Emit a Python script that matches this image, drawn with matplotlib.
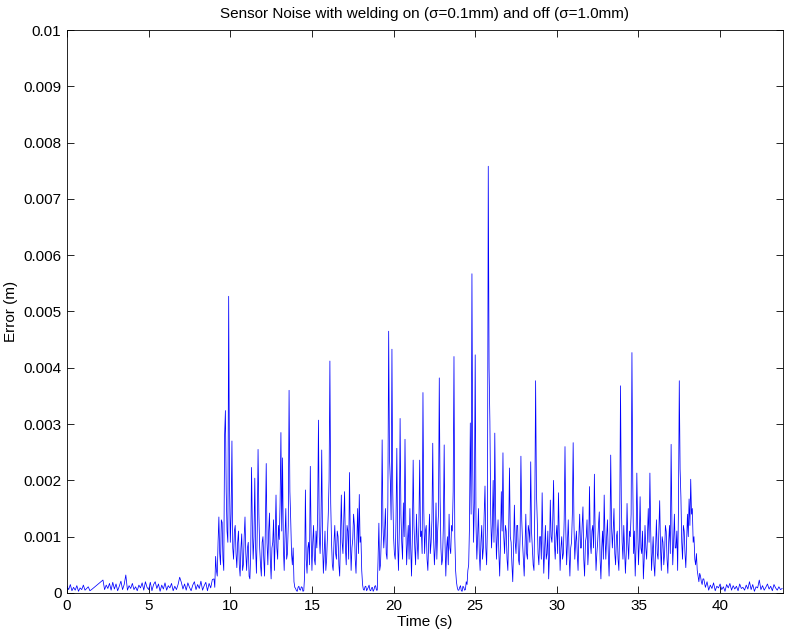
import numpy as np
import matplotlib
matplotlib.use("Agg")
import matplotlib.pyplot as plt

# the log was read in three pieces (values in 1e-4 m)
# quiet start, t = 0.0 .. 1.5 s, 0.1 s steps
err_a = [1.2, 0.6, 1.5, 0.4, 1.0, 0.5, 1.3, 0.3, 0.9, 0.6, 1.4, 0.5, 0.8, 1.1, 0.4, 0.6]
t_a_start, dt_a = 0.0, 0.1

# quiet part after a short gap, t = 2.2 .. 8.9 s, 0.1 s steps
err_b = [
    2.3, 0.6, 1.4, 0.8, 1.7, 0.5, 1.9, 0.7,                  # 2.2 - 2.9
    1.6, 0.4, 1.2, 2.1, 0.6, 1.5, 3.2, 0.5, 1.3, 0.8,        # 3
    1.7, 0.6, 1.1, 0.4, 1.4, 0.9, 1.8, 0.5, 2.0, 1.0,        # 4
    0.6, 1.9, 0.4, 1.5, 2.0, 0.8, 1.6, 0.3, 1.4, 0.7,        # 5
    1.8, 0.5, 1.3, 0.9, 1.7, 0.4, 1.2, 0.6, 1.5, 2.8,        # 6
    1.9, 0.7, 1.6, 0.5, 1.8, 1.0, 0.4, 1.4, 2.0, 0.6,        # 7
    1.5, 0.8, 2.1, 0.5, 1.3, 1.9, 0.4, 1.7, 0.9, 2.4,        # 8
]
t_b_start, dt_b = 2.2, 0.1

# welding part, t = 9.0 .. 38.95 s, 0.05 s steps
err_c = [
    2.5, 1.0, 6.5, 4.0, 3.0, 9.0, 13.5, 7.0, 5.0, 13.0, 12.5, 6.0, 4.0, 28.0, 32.4, 18.0, 11.0, 9.0, 52.7, 20.0,   # 9
    9.0, 14.0, 27.0, 8.0, 6.0, 11.0, 12.0, 7.0, 4.5, 9.0, 11.0, 5.0, 3.0, 8.0, 10.5, 4.0, 5.0, 10.0, 13.5, 7.0,    # 10
    4.0, 8.0, 9.0, 3.0, 2.5, 7.0, 22.3, 12.0, 6.0, 10.0, 20.4, 8.0, 3.5, 11.0, 25.5, 14.0, 8.0, 5.0, 3.0, 9.0,     # 11
    10.0, 6.0, 3.0, 12.0, 23.0, 9.0, 5.0, 11.0, 14.2, 6.0, 2.5, 8.0, 9.0, 13.0, 4.0, 10.0, 17.4, 8.0, 6.0, 12.0,   # 12
    9.5, 16.0, 28.5, 11.0, 24.0, 8.0, 4.0, 10.0, 15.0, 6.0, 7.0, 12.0, 36.0, 18.0, 13.0, 7.0, 5.0, 8.0, 2.0, 1.0,  # 13
    0.8, 0.4, 0.3, 1.0, 1.2, 0.6, 0.5, 1.1, 1.0, 0.3, 0.4, 3.0, 18.3, 6.0, 3.5, 8.0, 9.0, 5.0, 22.5, 10.0,         # 14
    4.0, 9.0, 12.0, 6.0, 5.0, 11.0, 8.0, 14.0, 30.7, 10.0, 7.0, 12.0, 25.4, 9.0, 3.5, 7.0, 11.0, 4.0, 6.0, 10.0,   # 15
    14.0, 20.0, 41.2, 16.0, 9.0, 5.0, 4.0, 9.0, 12.0, 7.0, 6.0, 11.0, 10.0, 5.0, 3.0, 10.0, 17.4, 9.0, 7.0, 13.0,  # 16
    18.0, 8.0, 5.0, 12.0, 11.0, 6.0, 21.4, 10.0, 4.0, 8.0, 9.5, 14.0, 12.0, 6.0, 3.5, 9.0, 15.0, 7.0, 17.5, 9.0,   # 17
    10.0, 4.0, 1.5, 0.6, 0.5, 1.1, 1.2, 0.4, 0.7, 1.0, 1.4, 0.5, 0.4, 0.9, 1.0, 0.3, 0.6, 1.2, 1.3, 0.5,           # 18
    0.5, 6.0, 12.4, 4.0, 5.0, 10.0, 27.2, 12.0, 8.0, 11.0, 15.0, 7.0, 6.0, 16.0, 46.5, 24.0, 20.0, 13.0, 43.3, 18.0,  # 19
    10.0, 7.0, 6.0, 13.0, 25.7, 9.0, 4.0, 11.0, 31.0, 14.0, 9.0, 6.0, 16.0, 10.0, 27.3, 12.0, 5.0, 9.0, 12.0, 6.0,    # 20
    15.0, 8.0, 3.0, 10.0, 23.6, 12.0, 8.0, 5.0, 14.0, 9.0, 6.0, 12.0, 23.6, 10.0, 11.0, 7.0, 35.6, 15.0, 7.0, 11.0,   # 21
    12.0, 6.0, 4.0, 9.0, 14.0, 7.0, 9.0, 13.0, 26.6, 10.0, 5.0, 8.0, 16.0, 6.0, 11.0, 14.0, 38.2, 17.0, 8.0, 5.0,     # 22
    6.0, 12.0, 26.3, 9.0, 3.0, 8.0, 10.0, 5.0, 14.0, 8.0, 7.0, 12.0, 11.0, 18.0, 42.0, 10.0, 4.0, 2.0, 1.0, 0.5,      # 23
    0.5, 1.0, 1.3, 0.4, 0.3, 1.2, 1.0, 0.5, 0.6, 2.0, 1.5, 4.0, 5.0, 12.0, 30.2, 14.0, 56.7, 22.0, 9.0, 16.0,         # 24
    42.3, 12.0, 6.0, 10.0, 15.0, 7.0, 4.0, 9.0, 12.0, 6.0, 8.0, 14.0, 19.0, 8.0, 5.0, 12.0, 75.8, 40.0, 30.4, 14.0,   # 25
    8.0, 12.0, 20.0, 9.0, 28.4, 14.0, 6.0, 10.0, 13.0, 7.0, 3.0, 9.0, 18.0, 11.0, 24.9, 10.0, 7.0, 12.0, 11.0, 6.0,   # 26
    4.0, 11.0, 22.2, 10.0, 9.0, 5.0, 2.0, 8.0, 15.6, 9.0, 7.0, 12.0, 12.0, 6.0, 5.0, 10.0, 24.3, 13.0, 9.0, 6.0,      # 27
    3.0, 8.0, 14.0, 7.0, 6.0, 12.0, 11.0, 9.0, 23.3, 11.0, 8.0, 5.0, 4.0, 15.0, 37.7, 18.0, 13.0, 7.0, 5.0, 10.0,     # 28
    10.0, 6.0, 17.8, 9.0, 3.5, 8.0, 12.0, 6.0, 7.0, 11.0, 2.5, 7.0, 16.5, 10.0, 9.0, 13.0, 20.0, 9.0, 6.0, 10.0,      # 29
    12.0, 7.0, 17.8, 10.0, 4.0, 8.0, 10.0, 6.0, 7.0, 13.0, 26.0, 11.0, 5.0, 9.0, 13.0, 7.0, 3.0, 8.0, 9.0, 14.0,      # 30
    26.7, 12.0, 6.0, 9.0, 11.0, 7.0, 4.0, 10.0, 14.0, 8.0, 8.0, 12.0, 15.3, 6.0, 3.0, 9.0, 10.0, 13.0, 5.0, 8.0,      # 31
    18.9, 9.0, 7.0, 11.0, 12.0, 8.0, 21.1, 10.0, 4.0, 7.0, 9.0, 12.0, 14.4, 6.0, 2.5, 8.0, 11.0, 6.0, 17.4, 10.0,     # 32
    6.0, 10.0, 13.0, 7.0, 3.0, 9.0, 24.5, 12.0, 8.0, 11.0, 15.0, 7.0, 5.0, 10.0, 11.0, 6.0, 4.0, 12.0, 36.8, 16.0,    # 33
    9.0, 6.0, 12.0, 8.0, 3.5, 7.0, 15.9, 9.0, 6.0, 11.0, 10.0, 14.0, 42.7, 20.0, 7.0, 11.0, 3.0, 8.0, 21.3, 12.0,     # 34
    5.0, 9.0, 17.1, 8.0, 7.0, 11.0, 2.5, 6.0, 12.0, 8.0, 6.0, 10.0, 15.0, 9.0, 21.3, 11.0, 4.0, 7.0, 10.0, 5.0,       # 35
    3.0, 8.0, 13.0, 7.0, 6.0, 11.0, 16.4, 8.0, 4.0, 10.0, 9.0, 5.0, 7.0, 12.0, 10.9, 6.0, 3.5, 9.0, 12.0, 7.0,        # 36
    26.4, 12.0, 5.0, 9.0, 14.0, 8.0, 8.0, 11.0, 4.0, 15.0, 37.7, 22.0, 17.0, 9.0, 6.0, 12.0, 11.0, 7.0, 4.5, 9.0,     # 37
    14.0, 10.0, 16.7, 12.0, 20.2, 14.0, 15.0, 9.0, 10.0, 6.0, 5.0, 7.0, 4.0, 3.0, 2.0, 3.5, 3.0, 2.0, 1.5, 2.5,       # 38
]
t_c_start, dt_c = 9.0, 0.05

# quiet end, t = 39.0 .. 43.8 s, 0.1 s steps
err_d = [
    2.5, 1.0, 2.0, 0.5, 1.4, 0.8, 1.8, 0.4, 1.2, 0.9,        # 39
    1.6, 0.6, 1.1, 0.3, 1.5, 0.9, 1.7, 0.5, 1.3, 0.7,        # 40
    1.2, 0.4, 1.6, 0.8, 1.0, 0.5, 1.4, 0.7, 2.0, 0.6,        # 41
    1.5, 0.3, 1.1, 0.9, 2.3, 0.6, 1.3, 0.5, 1.0, 1.6,        # 42
    0.7, 1.2, 0.4, 1.5, 0.9, 0.5, 1.1, 0.6, 0.8,             # 43
]
t_d_start, dt_d = 39.0, 0.1

x_ticks = [0, 5, 10, 15, 20, 25, 30, 35, 40]
y_ticks = [0, 0.001, 0.002, 0.003, 0.004, 0.005, 0.006, 0.007, 0.008, 0.009, 0.01]
y_tick_labels = ["0", "0.001", "0.002", "0.003", "0.004", "0.005",
                 "0.006", "0.007", "0.008", "0.009", "0.01"]

pieces = [(err_a, t_a_start, dt_a), (err_b, t_b_start, dt_b),
          (err_c, t_c_start, dt_c), (err_d, t_d_start, dt_d)]
t = np.concatenate([t0 + np.arange(len(v)) * step for v, t0, step in pieces])
err = np.concatenate([v for v, _, _ in pieces]) * 1e-4

plt.rcParams['font.family'] = ['Liberation Sans', 'DejaVu Sans']

fig = plt.figure(figsize=(7.85, 6.37), dpi=100)
ax = fig.add_axes([0.0854, 0.0691, 0.912, 0.8838])

ax.plot(t, err, color='#0000ff', lw=0.55)

ax.set_xlim(0, 43.85)
ax.set_ylim(0, 0.01)
ax.set_xticks(x_ticks)
ax.set_yticks(y_ticks)
ax.set_yticklabels(y_tick_labels)
ax.tick_params(direction='in', top=True, right=True, length=5, width=0.6,
               labelsize=11, pad=4)
for s in ax.spines.values():
    s.set_linewidth(0.6)

ax.set_title("Sensor Noise with welding on (\u03c3=0.1mm) and off (\u03c3=1.0mm)",
             fontsize=11, pad=9)
ax.set_xlabel("Time (s)", fontsize=11, labelpad=2)
ax.set_ylabel("Error (m)", fontsize=11, labelpad=4)

fig.savefig("out.png", dpi=100)
